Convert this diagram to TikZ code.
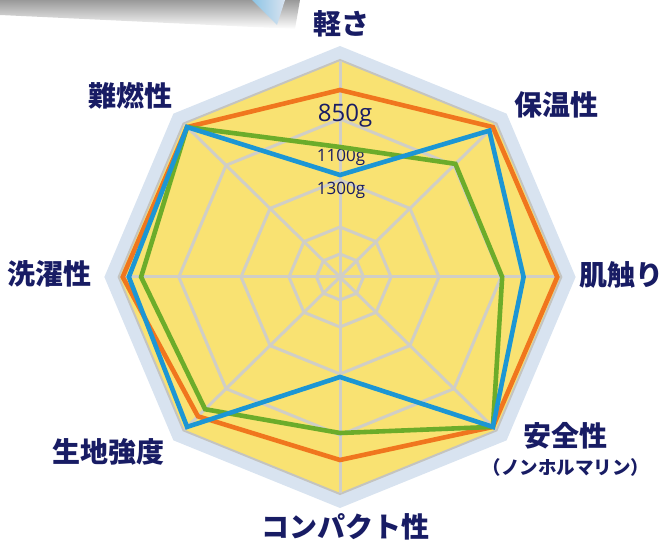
\documentclass[tikz,border=0pt]{standalone}
\usepackage{fontspec}
\newfontfamily\jp{Noto Sans CJK JP}
\newfontfamily\num{Open Sans}
\definecolor{navy}{RGB}{24,28,100}
\definecolor{chartyellow}{RGB}{249,226,114}
\definecolor{rimblue}{RGB}{216,227,240}
\definecolor{webgray}{RGB}{208,206,198}
\definecolor{edgegray}{RGB}{196,196,192}
\definecolor{lineorange}{RGB}{240,118,30}
\definecolor{lineblue}{RGB}{28,150,212}
\definecolor{linegreen}{RGB}{108,172,42}
\begin{document}
\begin{tikzpicture}[x=1pt,y=1pt]
	\tikzstyle{web} = [ draw=webgray, line width=3pt, line join=miter];
	\tikzstyle{axis} = [ inner sep=0pt, text=navy, font={\jp\bfseries\fontsize{28}{28}\selectfont}];
	\tikzstyle{note} = [ inner sep=0pt, text=navy, font={\jp\bfseries\fontsize{18.5}{18.5}\selectfont}];
	\tikzstyle{weight} = [ inner sep=0pt, anchor=base, text=navy, font={\num\fontsize{17}{17}\selectfont}];
	\tikzstyle{series} = [ line width=4.6pt, line join=miter];

	\useasboundingbox (-340,-268) rectangle (326,277);

	\shade[top color=gray!80, bottom color=white] (-340,277) -- (-40,277) -- (-45,248) -- (-340,262) -- cycle;
	\shade[left color=rimblue!60!lineblue, right color=rimblue] (-88,277) -- (-63,252) -- (-55,277) -- cycle;

	\coordinate (o) at (0,0);

	\begin{scope}[xscale=1.02]
		\fill[rimblue] (90:231) \foreach \a in {45,0,...,-225} { -- (\a:231) } -- cycle;
		\filldraw[fill=chartyellow, draw=edgegray, line width=2pt] (90:217) \foreach \a in {45,0,...,-225} { -- (\a:217) } -- cycle;

		\foreach \r in {23,50,97,158} {
			\draw[web] (90:\r) \foreach \a in {45,0,...,-225} { -- (\a:\r) } -- cycle;
		}
		\foreach \a in {90,45,...,-225}
			\draw[web] (o) -- (\a:216);

		\def \orange {187, 212, 213, 212, 183, 197, 213, 212}
		\def \blue {102, 207, 180, 212, 100, 212, 207, 212}
		\def \green {130, 160, 159, 212, 156, 187, 195, 212}

		\foreach \v [count=\i] in \orange
			\coordinate (or\i) at ({135-45*\i}:\v);
		\foreach \v [count=\i] in \blue
			\coordinate (bl\i) at ({135-45*\i}:\v);
		\foreach \v [count=\i] in \green
			\coordinate (gr\i) at ({135-45*\i}:\v);
	\end{scope}

	\node[weight, font={\num\fontsize{24}{24}\selectfont}] (w850) at (5,155) {850g};
	\node[weight] (w1100) at (1,115) {1100g};
	\node[weight] (w1300) at (1,82) {1300g};

	\draw[series, lineorange] (or1) -- (or2) -- (or3) -- (or4) -- (or5) -- (or6) -- (or7) -- (or8) -- cycle;
	\draw[series, linegreen] (gr1) -- (gr2) -- (gr3) -- (gr4) -- (gr5) -- (gr6) -- (gr7) -- (gr8) -- cycle;
	\draw[series, lineblue] (bl1) -- (bl2) -- (bl3) -- (bl4) -- (bl5) -- (bl6) -- (bl7) -- (bl8) -- cycle;

	\node[axis] (light) at (1,253) {軽さ};
	\node[axis] (warm) at (216,172) {保温性};
	\node[axis] (touch) at (281,2) {肌触り};
	\node[axis] (safe) at (225,-159) {安全性};
	\node[note] (formalin) at (226,-190) {（ノンホルマリン）};
	\node[axis] (compact) at (6,-250) {コンパクト性};
	\node[axis] (strength) at (-231,-175) {生地強度};
	\node[axis] (wash) at (-290,3) {洗濯性};
	\node[axis] (flame) at (-209,181) {難燃性};
\end{tikzpicture}
\end{document}
